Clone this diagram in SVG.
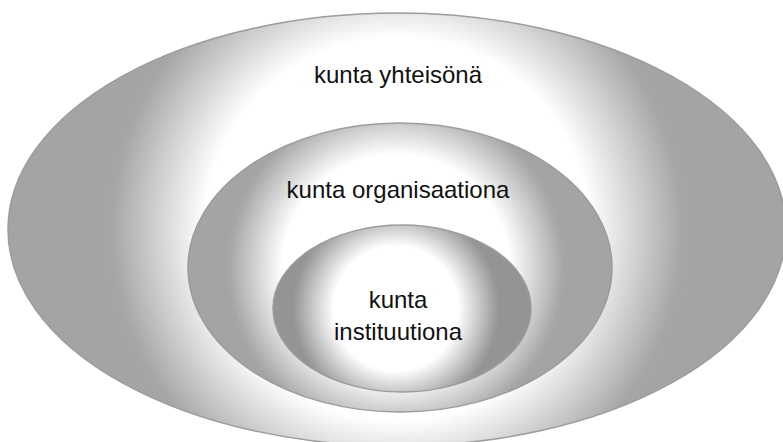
<svg xmlns="http://www.w3.org/2000/svg" width="783" height="442" viewBox="0 0 783 442">
  <style>
    .shape { stroke: #9c9c9c; stroke-width: 1.5; }
    .label { font-family: "Liberation Sans", Arial, sans-serif; font-size: 24px; fill: #111111; text-anchor: middle; }
  </style>
  <defs>
    <radialGradient id="gOuter" gradientUnits="userSpaceOnUse" cx="397" cy="229" r="300">
      <stop offset="0" stop-color="#ffffff"/>
      <stop offset="0.64" stop-color="#ffffff"/>
      <stop offset="0.95" stop-color="#a6a6a6"/>
      <stop offset="1" stop-color="#a4a4a4"/>
    </radialGradient>
    <radialGradient id="gMiddle" gradientUnits="userSpaceOnUse" cx="396" cy="268" r="172">
      <stop offset="0" stop-color="#ffffff"/>
      <stop offset="0.66" stop-color="#ffffff"/>
      <stop offset="0.97" stop-color="#a6a6a6"/>
      <stop offset="1" stop-color="#a4a4a4"/>
    </radialGradient>
    <radialGradient id="gInner" gradientUnits="userSpaceOnUse" cx="396" cy="308.5" r="104">
      <stop offset="0" stop-color="#ffffff"/>
      <stop offset="0.6" stop-color="#ffffff"/>
      <stop offset="0.97" stop-color="#999999"/>
      <stop offset="1" stop-color="#949494"/>
    </radialGradient>
  </defs>
  <g id="node-yhteiso">
    <ellipse class="shape" cx="397" cy="229.5" rx="389" ry="216.5" fill="url(#gOuter)"/>
    <text class="label" x="398" y="83">kunta yhteisönä</text>
  </g>
  <g id="node-organisaatio">
    <ellipse class="shape" cx="400" cy="267.5" rx="212" ry="144.5" fill="url(#gMiddle)"/>
    <text class="label" x="398" y="198">kunta organisaationa</text>
  </g>
  <g id="node-instituutio">
    <ellipse class="shape" cx="402" cy="308.5" rx="129" ry="83.5" fill="url(#gInner)"/>
    <text class="label" x="398" y="308">kunta</text>
    <text class="label" x="398" y="340">instituutiona</text>
  </g>
  <g id="connectors"/>
</svg>
